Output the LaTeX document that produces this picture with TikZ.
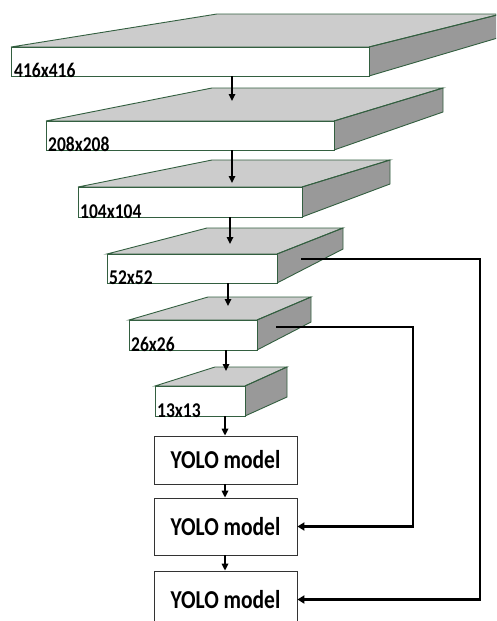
\documentclass[tikz,border=0pt]{standalone}
\usepackage{fontspec}
\setmainfont{Carlito}
\usetikzlibrary{arrows.meta}
\definecolor{edgegreen}{HTML}{335F40}
\definecolor{topgray}{HTML}{CCCCCC}
\definecolor{sidegray}{HTML}{999999}
\newcommand{\myslab}[9]{%
  % #1 name, #2 L, #3 R, #4 T, #5 B, #6 BL, #7 BR, #8 BT, #9 BB
  \fill[topgray] (#2,#4) -- (#6,#8) -- (#7,#8) -- (#3,#4) -- cycle;
  \fill[sidegray] (#3,#4) -- (#7,#8) -- (#7,#9) -- (#3,#5) -- cycle;
  \fill[white] (#2,#4) rectangle (#3,#5);
  \draw[slabedge] (#2,#4) -- (#6,#8) -- (#7,#8) -- (#3,#4) -- cycle;
  \draw[slabedge] (#3,#4) -- (#7,#8) -- (#7,#9) -- (#3,#5);
  \draw[slabedge] (#2,#4) rectangle (#3,#5);
  \coordinate (#1-sw) at (#2,#5);
}
\newcommand{\tallbox}[1]{\scalebox{1}[1.2]{#1}}
\tikzset{
  slablabel/.style={anchor=base west, inner sep=0pt, font=\fontsize{17.5}{20}\selectfont\bfseries},
  slabedge/.style={draw=edgegreen, line width=0.9pt, line join=miter},
  yolobox/.style={draw=black!80, line width=0.8pt, fill=white, minimum width=143pt, minimum height=#1, inner sep=0pt, font=\fontsize{21.5}{24}\selectfont\bfseries},
  flow/.style={line width=1.6pt, -{Triangle[length=7pt,width=6.5pt]}},
  skip/.style={line width=2.6pt, -{Triangle[length=7pt,width=8pt]}},
}
\begin{document}
\begin{tikzpicture}[x=1pt,y=-1pt]
\useasboundingbox (0,0) rectangle (496,621);
\begin{scope}
\clip (0,0) rectangle (496,621);
\myslab{s1}{11}{369}{47}{76}{217}{501}{14}{37}
\myslab{s2}{46}{334}{121}{150}{212}{443}{88}{112}
\myslab{s3}{78}{302}{187}{217}{212}{390}{160}{184}
\myslab{s4}{107}{277}{254}{283}{207}{343}{228}{249}
\myslab{s5}{129}{257}{320}{350}{208}{311}{297}{322}
\myslab{s6}{155}{245}{386}{416}{215}{287}{367}{397}

\node[slablabel] (l1) at (14,77) {\tallbox{416x416}};
\node[slablabel] (l2) at (48,151) {\tallbox{208x208}};
\node[slablabel] (l3) at (80,218) {\tallbox{104x104}};
\node[slablabel] (l4) at (109,284) {\tallbox{52x52}};
\node[slablabel] (l5) at (131,351) {\tallbox{26x26}};
\node[slablabel] (l6) at (157,417) {\tallbox{13x13}};

\node[yolobox=48pt] (y1) at (225.5,460) {\tallbox{YOLO model}};
\node[yolobox=57pt] (y2) at (225.5,526.5) {\tallbox{YOLO model}};
\node[yolobox=57pt] (y3) at (225.5,599.5) {\tallbox{YOLO model}};

\coordinate (a1s) at (232,76);  \coordinate (a1e) at (232,101);
\coordinate (a2s) at (232,150); \coordinate (a2e) at (232,183);
\coordinate (a3s) at (230,217); \coordinate (a3e) at (230,244);
\coordinate (a4s) at (228,283); \coordinate (a4e) at (228,306);
\coordinate (a5s) at (226,350); \coordinate (a5e) at (226,371);
\coordinate (a6s) at (225,416);

\draw[flow] (a1s) -- (a1e);
\draw[flow] (a2s) -- (a2e);
\draw[flow] (a3s) -- (a3e);
\draw[flow] (a4s) -- (a4e);
\draw[flow] (a5s) -- (a5e);
\draw[flow] (a6s) -- (y1.north -| a6s);
\draw[flow] (y1.south -| a6s) -- (y2.north -| a6s);
\draw[flow] (y2.south -| a6s) -- (y3.north -| a6s);

\coordinate (k1) at (301,259);
\coordinate (k1c) at (480,259);
\coordinate (k2) at (276,327);
\coordinate (k2c) at (413,327);
\draw[skip] (k1) -- (k1c) |- (y3.east);
\draw[skip] (k2) -- (k2c) |- (y2.east);
\end{scope}
\end{tikzpicture}
\end{document}
